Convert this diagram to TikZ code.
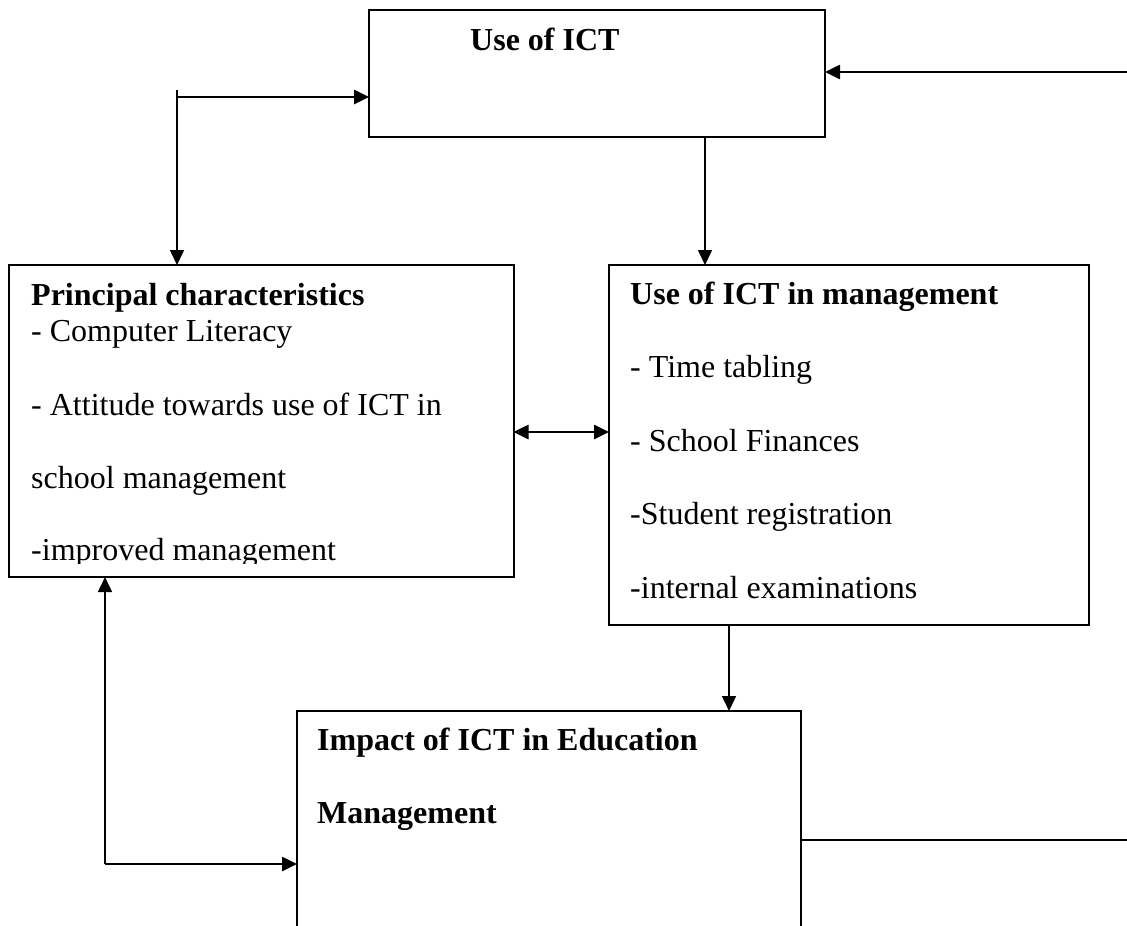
\documentclass[tikz,border=0pt]{standalone}
\usepackage{fontspec}
\setmainfont{Liberation Serif}
\usetikzlibrary{arrows.meta}
\begin{document}
\begin{tikzpicture}[x=1pt,y=-1pt,
  box/.style={draw, line width=2pt, inner sep=0pt, outer sep=0pt, anchor=north west},
  txt/.style={anchor=base west, inner sep=0pt, font=\fontsize{32}{38}\selectfont},
  head/.style={txt, font=\fontsize{32}{38}\selectfont\bfseries},
  tip/.style={-{Triangle[length=15pt,width=14pt]}},
  dtip/.style={{Triangle[length=15pt,width=14pt]}-{Triangle[length=15pt,width=14pt]}},
  thin/.style={line width=1.5pt},
  heavy/.style={line width=2.6pt}]
\useasboundingbox (0,0) rectangle (1127,926);
\clip (0,0) rectangle (1127,926);

% boxes
\node[box, minimum width=456pt, minimum height=127pt] (use) at (369,10) {};
\node[box, minimum width=505pt, minimum height=312pt] (prin) at (8.5,265) {};
\node[box, minimum width=480pt, minimum height=360pt] (mgmt) at (609,265) {};
\node[box, minimum width=504pt, minimum height=240pt] (imp) at (297,711) {};

% box texts
\node[head] (t-use) at (470,50) {Use of ICT};

\begin{scope}
  \clip (10,266) rectangle (512,563);
  \node[head] (p0) at (31,305) {Principal characteristics};
  \node[txt] (p1) at (31,341) {- Computer Literacy};
  \node[txt] (p2) at (31,415) {- Attitude towards use of ICT in};
  \node[txt] (p3) at (31,488) {school management};
  \node[txt] (p4) at (31,560) {-improved management};
\end{scope}

\node[head] (m0) at (630,304) {Use of ICT in management};
\node[txt] (m1) at (630,377) {- Time tabling};
\node[txt] (m2) at (630,451) {- School Finances};
\node[txt] (m3) at (630,524) {-Student registration};
\node[txt] (m4) at (630,598) {-internal examinations};

\node[head] (i0) at (317,750) {Impact of ICT in Education};
\node[head] (i1) at (317,823) {Management};

% connector anchors
\coordinate (rin) at (1127,72);
\coordinate (lt) at (177,90);
\coordinate (lh) at (177,97);
\coordinate (td) at (705,0);
\coordinate (da) at (0,432);
\coordinate (md) at (729,0);
\coordinate (lb) at (105,864);
\coordinate (ro) at (1127,840);

% connectors
\draw[heavy, tip] (rin) -- (use.east |- rin);
\draw[thin, tip] (lt) -- (lt |- prin.north);
\draw[heavy, tip] (lh) -- (lh -| use.west);
\draw[thin, tip] (td |- use.south) -- (td |- mgmt.north);
\draw[heavy, dtip] (prin.east |- da) -- (mgmt.west |- da);
\draw[thin, tip] (md |- mgmt.south) -- (md |- imp.north);
\draw[thin, {Triangle[length=15pt,width=14pt]}-] (lb |- prin.south) -- (lb);
\draw[heavy, tip] (lb) -- (lb -| imp.west);
\draw[line width=2pt] (imp.east |- ro) -- (ro);
\end{tikzpicture}
\end{document}
